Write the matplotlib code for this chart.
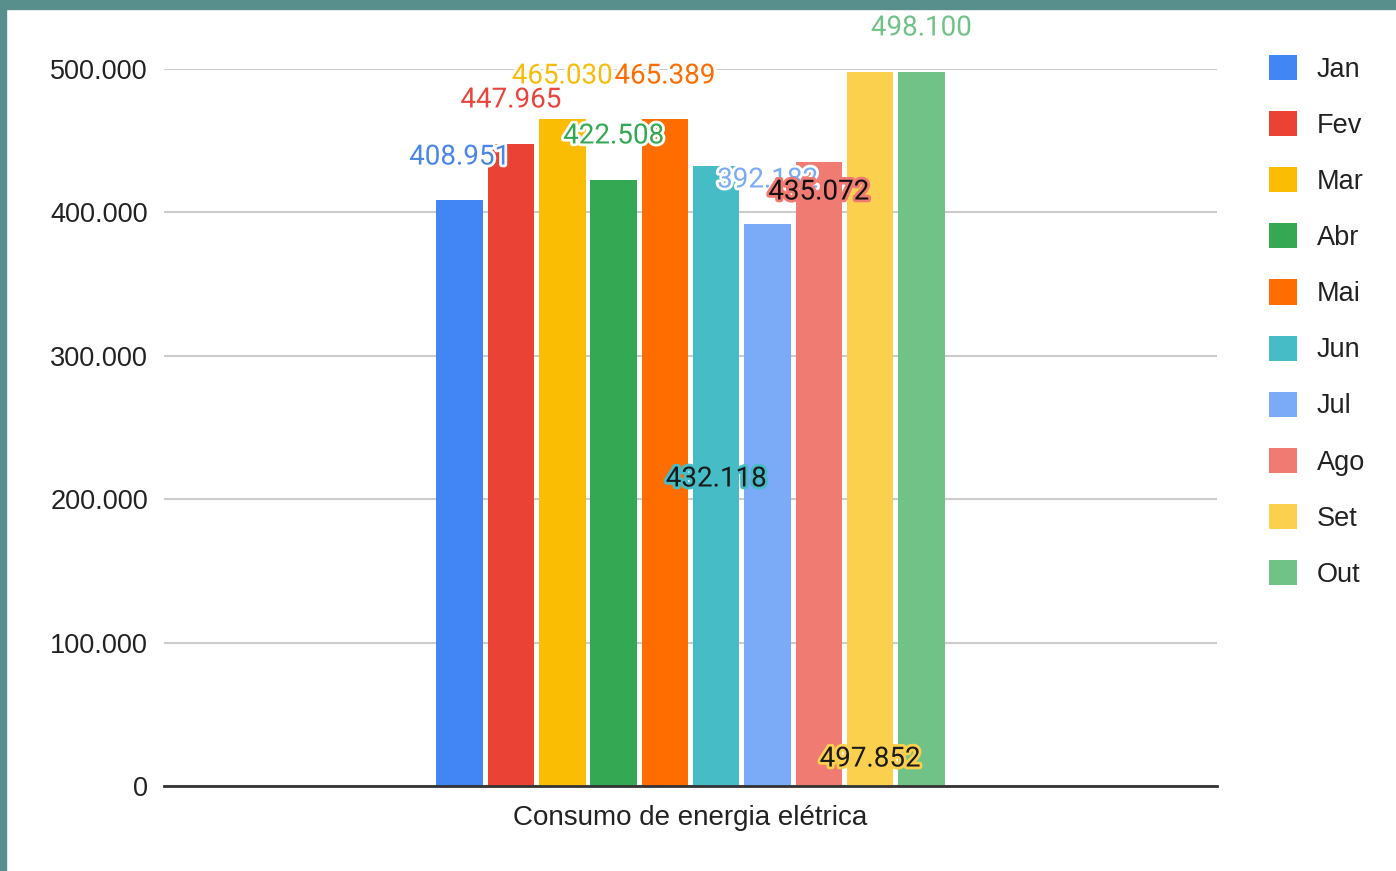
import matplotlib
matplotlib.use("Agg")
import matplotlib.pyplot as plt
import matplotlib.patheffects as pe
from matplotlib.patches import Rectangle, Patch

plt.rcParams['font.family'] = ['Liberation Sans', 'DejaVu Sans']

category = "Consumo de energia elétrica"
months = ["Jan", "Fev", "Mar", "Abr", "Mai", "Jun", "Jul", "Ago", "Set", "Out"]
values = [408951, 447965, 465030, 422508, 465389, 432118, 392182, 435072, 497852, 498100]
colors = ["#4285F4", "#EA4335", "#FBBC04", "#34A853", "#FF6D01",
          "#46BDC6", "#7BAAF7", "#F07B72", "#FCD04F", "#71C287"]
yticks = [0, 100000, 200000, 300000, 400000, 500000]

# label placement (data units) and styling, as in the reference
label_y = [438600, 478400, 495100, 453300, 495100, 214100, 422600, 414200, 18800, 528600]
label_color = ["#4a86e8", "#e8453c", "#f9bb0a", "#34a853", "#ff6d01",
               "#1a1a1a", "#7baaf7", "#111111", "#1a1a1a", "#71c287"]
label_halo = ["white", "white", "white", "white", "white", "#46BDC6", "white", "#F07B72", "#FCD04F", "white"]

def fmt(v):
    return f"{v:,}".replace(",", ".")

W, H = 1396, 871
fig = plt.figure(figsize=(W / 100, H / 100), dpi=100)
fig.patch.set_facecolor("white")

# teal frame (screenshot border)
fig.add_artist(Rectangle((0, 0), 6 / W, 1, transform=fig.transFigure, color="#588F8D", zorder=0))
fig.add_artist(Rectangle((0, 1 - 9 / H), 1, 9 / H, transform=fig.transFigure, color="#588F8D", zorder=0))

ax = fig.add_axes([164 / W, 1 - 786 / H, (1217 - 164) / W, (786 - 69) / H])
ax.set_xlim(-0.5, 0.5)
ax.set_ylim(0, 500000)

n = len(values)
slot = 51.3 / 1053
bw = 46.5 / 1053
xs = [(i - (n - 1) / 2) * slot for i in range(n)]

bars = ax.bar(xs, values, width=bw, color=colors, zorder=3, clip_on=False)

for x, v, ly, c, h in zip(xs, values, label_y, label_color, label_halo):
    t = ax.text(x, ly, fmt(v), ha="center", va="center", fontsize=20, color=c,
                family=["Roboto", "DejaVu Sans"], zorder=5, clip_on=False)
    if h:
        t.set_path_effects([pe.withStroke(linewidth=4, foreground=h)])

ax.set_yticks(yticks)
ax.set_yticklabels([fmt(t) for t in yticks], fontsize=19.5, color="#222222")
ax.set_xticks([0])
ax.set_xticklabels([category], fontsize=20, color="#222222")
ax.tick_params(axis="both", length=0)
ax.tick_params(axis="y", pad=11.5)
ax.tick_params(axis="x", pad=14)

ax.grid(axis="y", color="#cccccc", linewidth=1.5, zorder=0)
ax.set_axisbelow(True)
for s in ["top", "right", "left"]:
    ax.spines[s].set_visible(False)
ax.spines["bottom"].set_color("#333333")
ax.spines["bottom"].set_linewidth(2)
ax.spines["bottom"].set_zorder(4)

handles = [Patch(facecolor=c, edgecolor="none") for c in colors]
fig.legend(handles, months, loc="upper left", bbox_to_anchor=(1269 / W, 1 - 55 / H),
           frameon=False, fontsize=19.5, handlelength=1.05, handleheight=1.05,
           labelspacing=1.045, handletextpad=0.72, borderaxespad=0, borderpad=0,
           labelcolor="#222222")

fig.savefig("out.png", dpi=100)
